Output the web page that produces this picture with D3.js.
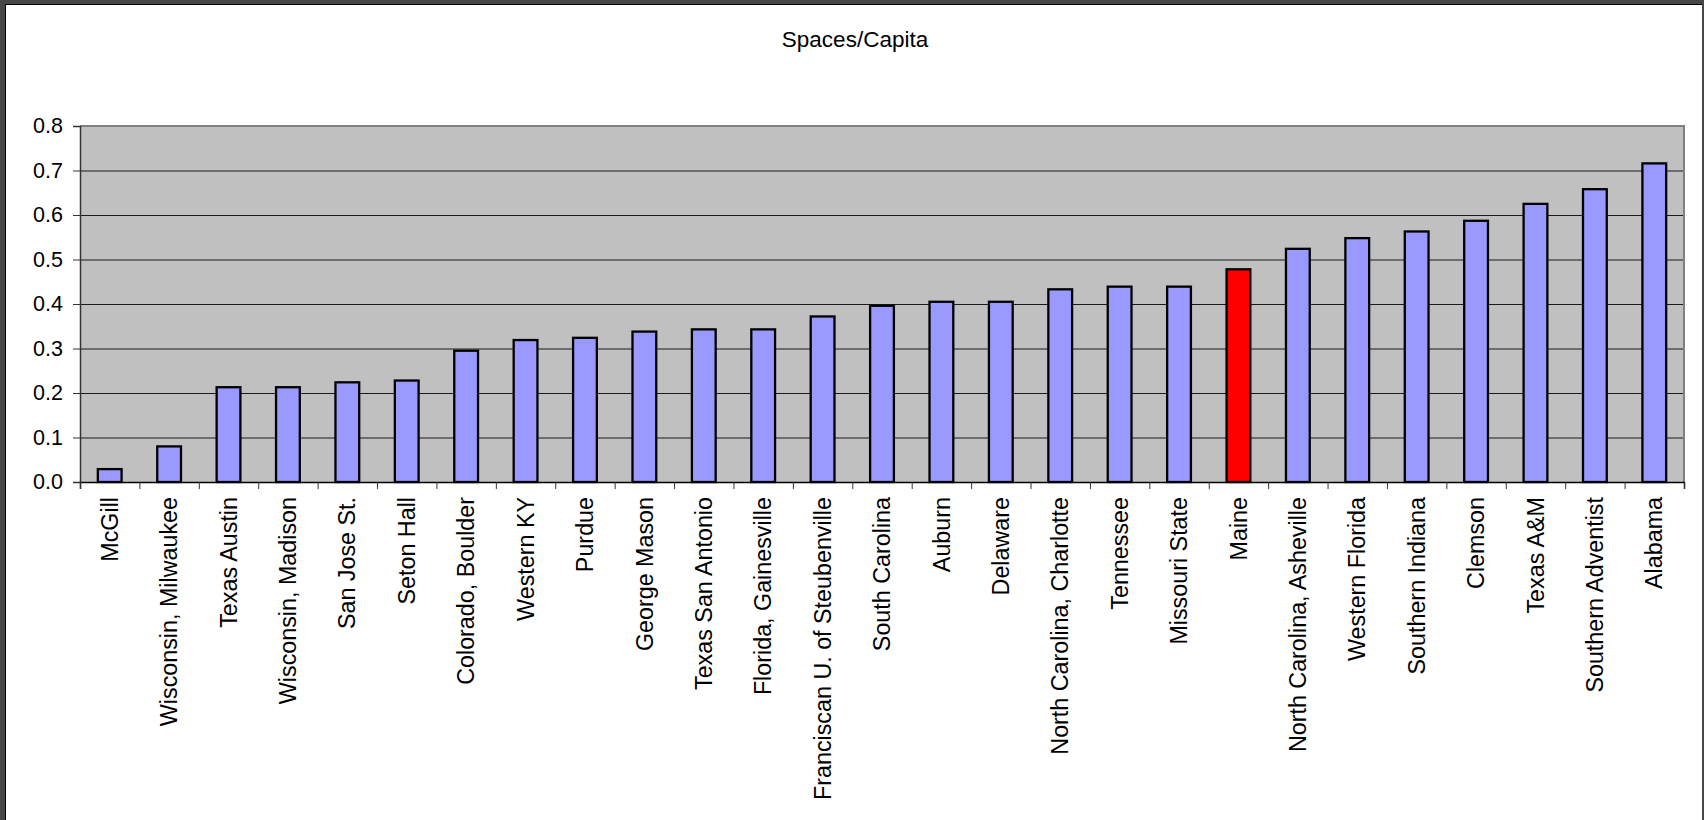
<!DOCTYPE html>
<html>
<head>
<meta charset="utf-8">
<script src="https://cdn.jsdelivr.net/npm/d3@7"></script>
<style>
  body { margin: 0; background: #fff; }
  svg { display: block; font-family: "Liberation Sans", Arial, sans-serif; }
</style>
</head>
<body>
<svg id="svg" width="1704" height="820"></svg>
<script>
const schools = [
	'McGill', 'Wisconsin, Milwaukee', 'Texas Austin', 'Wisconsin, Madison', 'San Jose St.',
	'Seton Hall', 'Colorado, Boulder', 'Western KY', 'Purdue', 'George Mason',
	'Texas San Antonio', 'Florida, Gainesville', 'Franciscan U. of Steubenville', 'South Carolina',
	'Auburn', 'Delaware', 'North Carolina, Charlotte', 'Tennessee', 'Missouri State', 'Maine',
	'North Carolina, Asheville', 'Western Florida', 'Southern Indiana', 'Clemson', 'Texas A&M',
	'Southern Adventist', 'Alabama'
]
const spacesPerCapita = [
	0.029, 0.080, 0.213, 0.213, 0.224,
	0.228, 0.295, 0.319, 0.324, 0.338,
	0.343, 0.343, 0.372, 0.396,
	0.405, 0.405, 0.433, 0.439, 0.439, 0.478,
	0.524, 0.548, 0.563, 0.587, 0.625,
	0.658, 0.716
]
const highlight = 'Maine'
const yTicks = [0, 0.1, 0.2, 0.3, 0.4, 0.5, 0.6, 0.7, 0.8]
const title = 'Spaces/Capita'

const width = 1704
const height = 820
const plot = { left: 80, right: 1684, top: 126, bottom: 482 }

const $svg = d3.select('#svg')

// window frame
$svg.append('rect')
	.attr('x', 0).attr('y', 0)
	.attr('width', width).attr('height', height)
	.attr('fill', '#474747')
$svg.append('rect')
	.attr('x', 5).attr('y', 4)
	.attr('width', width - 7).attr('height', height)
	.attr('fill', '#000')
$svg.append('rect')
	.attr('x', 6).attr('y', 5)
	.attr('width', width - 8).attr('height', height)
	.attr('fill', '#fff')

const x = d3.scaleBand()
	.domain(schools)
	.range([plot.left, plot.right])
	.paddingInner(0.6)
	.paddingOuter(0.3)

const xEdges = d3.scaleLinear()
	.domain([0, schools.length])
	.range([plot.left, plot.right])

const y = d3.scaleLinear()
	.domain([0, 0.8])
	.range([plot.bottom, plot.top])

// plot background
$svg.append('rect')
	.attr('x', plot.left).attr('y', plot.top)
	.attr('width', plot.right - plot.left)
	.attr('height', plot.bottom - plot.top)
	.attr('fill', '#c0c0c0')

// gridlines
const $grid = $svg.append('g')
	.attr('transform', `translate(${plot.left},0)`)
	.call(d3.axisLeft(y).tickValues(yTicks.slice(1, -1)).tickSize(-(plot.right - plot.left)).tickFormat(''))
$grid.select('.domain').remove()
$grid.selectAll('line').attr('stroke', '#1a1a1a').attr('stroke-width', 1)

// plot border top/right
$svg.append('path')
	.attr('d', `M${plot.left},${plot.top}H${plot.right}V${plot.bottom}`)
	.attr('fill', 'none')
	.attr('stroke', '#808080')
	.attr('stroke-width', 2)

// bars
$svg.append('g')
	.selectAll('rect')
	.data(schools)
	.join('rect')
	.attr('x', d => x(d))
	.attr('y', (d, i) => y(spacesPerCapita[i]))
	.attr('width', x.bandwidth())
	.attr('height', (d, i) => y(0) - y(spacesPerCapita[i]))
	.attr('fill', d => d === highlight ? '#ff0000' : '#9999ff')
	.attr('stroke', '#000')
	.attr('stroke-width', 2.3)

// y axis
const $yAxis = $svg.append('g')
	.attr('transform', `translate(${plot.left},0)`)
	.call(d3.axisLeft(y).tickValues(yTicks).tickSize(7).tickPadding(10).tickFormat(d3.format('.1f')))
$yAxis.select('.domain').attr('stroke', '#333').attr('stroke-width', 1.5)
$yAxis.selectAll('line').attr('stroke', '#333')
$yAxis.selectAll('text')
	.attr('fill', '#000')
	.style('font-size', '21.5px')
	.style('font-family', '"Liberation Sans", Arial, sans-serif')

// x axis: ticks between categories
const $xTicks = $svg.append('g')
	.attr('transform', `translate(0,${plot.bottom})`)
	.call(d3.axisBottom(xEdges).ticks(schools.length).tickSize(7).tickFormat(''))
$xTicks.select('.domain').attr('stroke', '#000').attr('stroke-width', 1.5)
$xTicks.selectAll('line').attr('stroke', '#333')

// x labels
$svg.append('g')
	.selectAll('text')
	.data(schools)
	.join('text')
	.attr('transform', d => `translate(${x(d) + x.bandwidth() / 2},${plot.bottom + 15}) rotate(-90)`)
	.attr('text-anchor', 'end')
	.attr('dy', '0.35em')
	.style('font-size', '23.3px')
	.text(d => d)

// title
$svg.append('text')
	.attr('x', 855)
	.attr('y', 47)
	.attr('text-anchor', 'middle')
	.style('font-size', '22.5px')
	.text(title)
</script>
</body>
</html>
